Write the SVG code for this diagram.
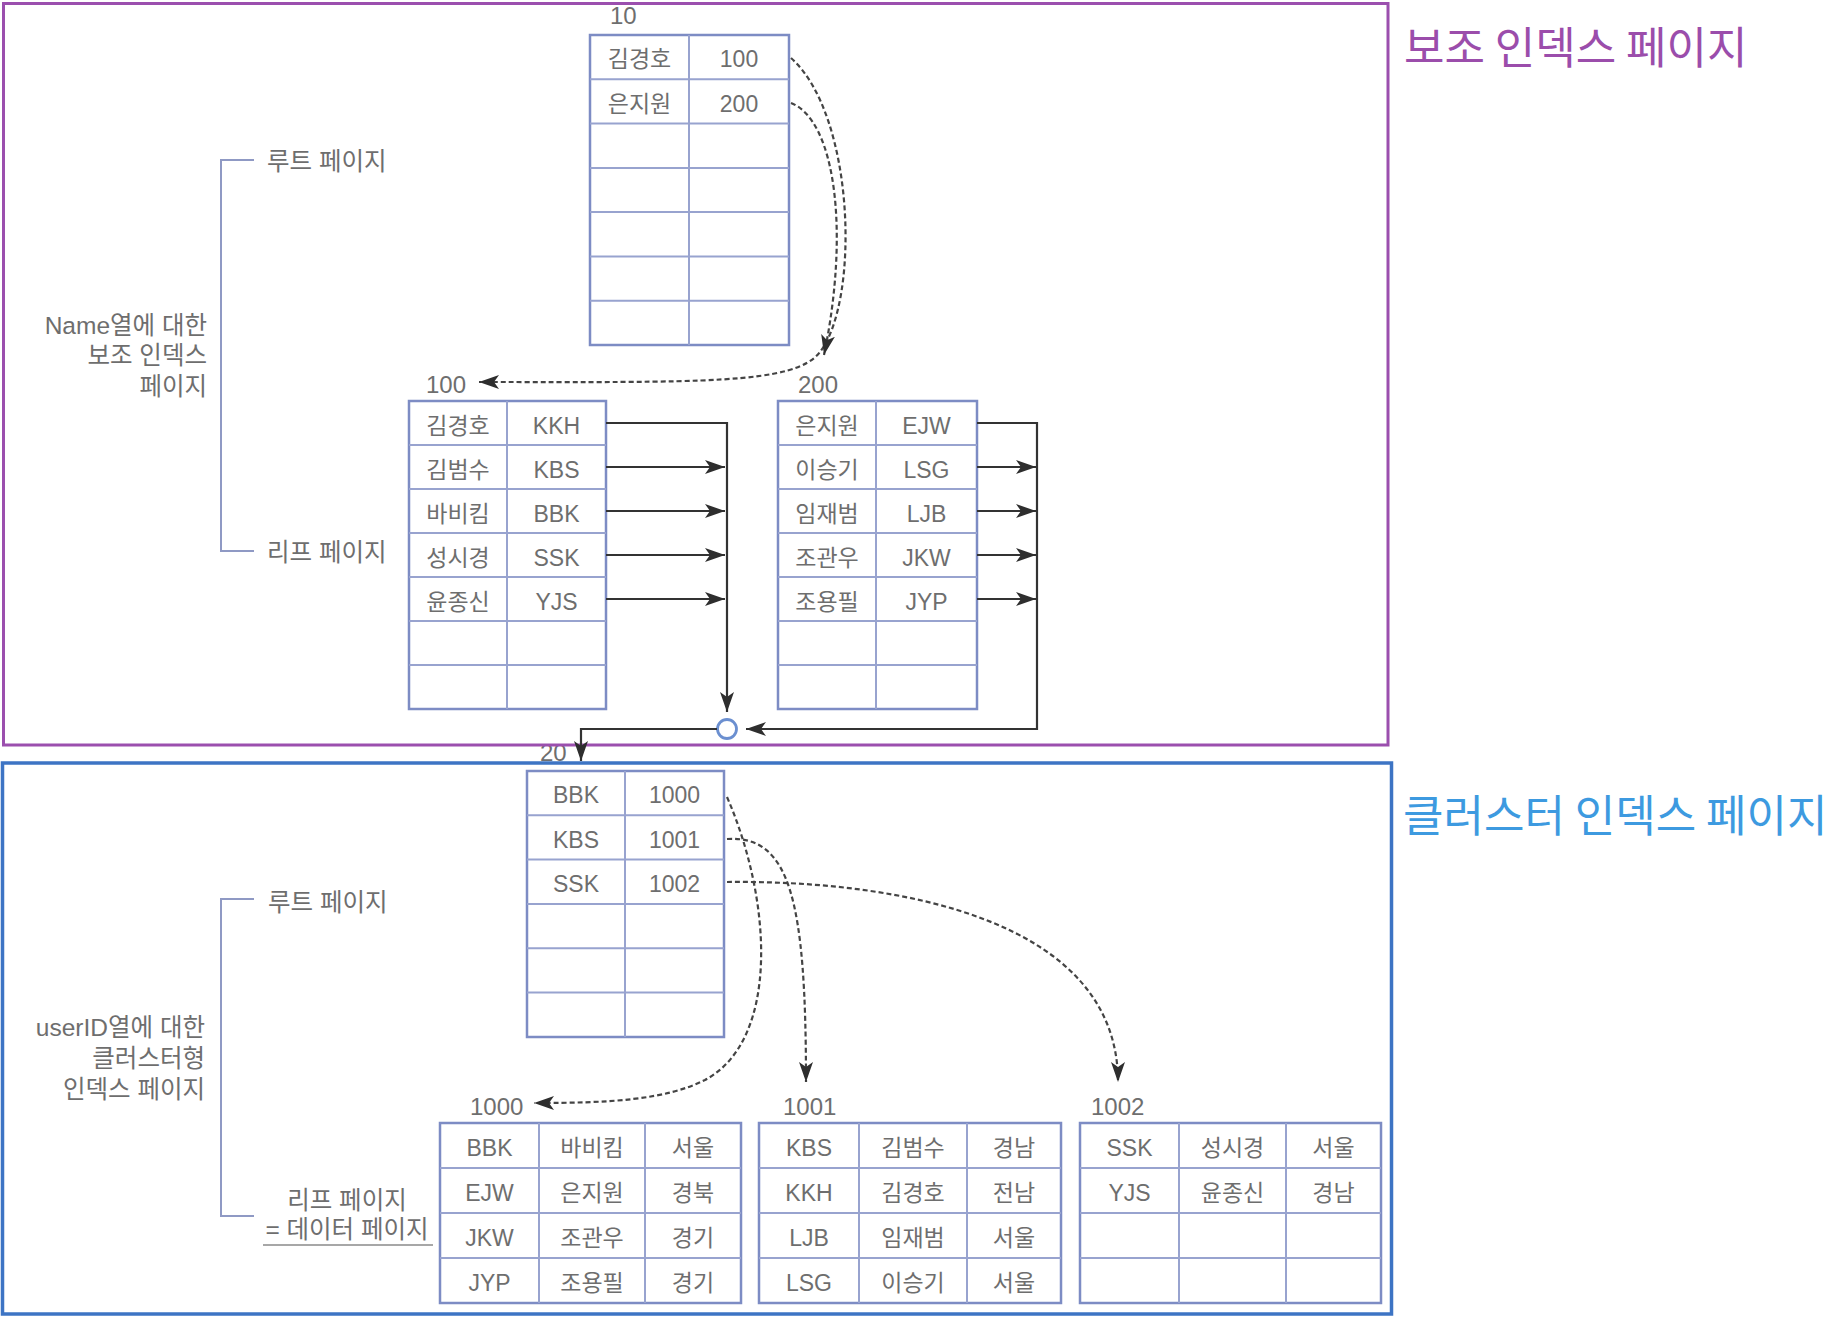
<svg xmlns="http://www.w3.org/2000/svg" width="1832" height="1322" viewBox="0 0 1832 1322">
<style>
.tb{fill:#ffffff;stroke:#7d8cc4;stroke-width:2.5}
.ln{stroke:#98a3cf;stroke-width:2;fill:none}
.c{font-family:"Liberation Sans","Noto Sans CJK KR",sans-serif;font-size:23px;fill:#6e6e6e;text-anchor:middle}
.lbl{font-family:"Liberation Sans","Noto Sans CJK KR",sans-serif;font-size:24px;fill:#6e6e6e}
.ann{font-family:"Liberation Sans","Noto Sans CJK KR",sans-serif;font-size:24.5px;fill:#6e6e6e}
.br{stroke:#8f99c4;stroke-width:2;fill:none}
.solid{stroke:#333;stroke-width:2.2;fill:none}
.dash{stroke:#444;stroke-width:2.2;fill:none;stroke-dasharray:5 3}
</style>
<defs>
<marker id="ah" viewBox="0 0 20 14" refX="20" refY="7" markerWidth="20" markerHeight="14" markerUnits="userSpaceOnUse" orient="auto">
<path d="M0,0 L20,7 L0,14 L5,7 Z" fill="#2e2e2e"/>
</marker>
</defs>
<rect width="1832" height="1322" fill="#ffffff"/>

<g id="label-20"><text class="lbl" x="540" y="761">20</text></g>

<g id="frame-secondary">
<rect x="3.5" y="3.5" width="1384.5" height="741.5" fill="none" stroke="#9b4fae" stroke-width="3"/>
<text x="1404" y="64" font-family="'Noto Sans CJK KR',sans-serif" font-size="44" fill="#9b4dab">보조 인덱스 페이지</text>
</g>
<g id="frame-cluster">
<rect x="2.5" y="763" width="1389" height="551" fill="none" stroke="#3d74c4" stroke-width="3.5"/>
<text x="1403" y="832" font-family="'Noto Sans CJK KR',sans-serif" font-size="44" fill="#3d9ae0">클러스터 인덱스 페이지</text>
</g>

<g id="ann-top">
<path class="br" d="M254,160 H221 V551 H254"/>
<text class="ann" x="267" y="170">루트 페이지</text>
<text class="ann" x="267" y="561">리프 페이지</text>
<text class="ann" x="207" y="334" text-anchor="end">Name열에 대한</text>
<text class="ann" x="207" y="364" text-anchor="end">보조 인덱스</text>
<text class="ann" x="207" y="395" text-anchor="end">페이지</text>
</g>

<g id="ann-bottom">
<path class="br" d="M254,899 H221 V1216 H254"/>
<text class="ann" x="268" y="911">루트 페이지</text>
<text class="ann" x="205" y="1036" text-anchor="end">userID열에 대한</text>
<text class="ann" x="205" y="1067" text-anchor="end">클러스터형</text>
<text class="ann" x="205" y="1098" text-anchor="end">인덱스 페이지</text>
<text class="ann" x="347" y="1209" text-anchor="middle">리프 페이지</text>
<text class="ann" x="347" y="1238" text-anchor="middle">= 데이터 페이지</text>
<line x1="263" y1="1245" x2="433" y2="1245" stroke="#8a8a8a" stroke-width="1.5"/>
</g>

<g id="page-10">
<text class="lbl" x="610" y="24">10</text>
<rect class="tb" x="590" y="35" width="199" height="310"/>
<path class="ln" d="M590,79.3H789M590,123.6H789M590,167.9H789M590,212.1H789M590,256.4H789M590,300.7H789M689,35V345"/>
<text class="c" x="639.5" y="67">김경호</text><text class="c" x="739" y="67">100</text>
<text class="c" x="639.5" y="111.5">은지원</text><text class="c" x="739" y="111.5">200</text>
</g>

<g id="page-100">
<text class="lbl" x="426" y="393">100</text>
<rect class="tb" x="409" y="401" width="197" height="308"/>
<path class="ln" d="M409,445H606M409,489H606M409,533H606M409,577H606M409,621H606M409,665H606M507,401V709"/>
<text class="c" x="458" y="434">김경호</text><text class="c" x="556.5" y="434">KKH</text>
<text class="c" x="458" y="478">김범수</text><text class="c" x="556.5" y="478">KBS</text>
<text class="c" x="458" y="522">바비킴</text><text class="c" x="556.5" y="522">BBK</text>
<text class="c" x="458" y="566">성시경</text><text class="c" x="556.5" y="566">SSK</text>
<text class="c" x="458" y="610">윤종신</text><text class="c" x="556.5" y="610">YJS</text>
</g>

<g id="page-200">
<text class="lbl" x="798" y="393">200</text>
<rect class="tb" x="778" y="401" width="199" height="308"/>
<path class="ln" d="M778,445H977M778,489H977M778,533H977M778,577H977M778,621H977M778,665H977M876,401V709"/>
<text class="c" x="827" y="434">은지원</text><text class="c" x="926.5" y="434">EJW</text>
<text class="c" x="827" y="478">이승기</text><text class="c" x="926.5" y="478">LSG</text>
<text class="c" x="827" y="522">임재범</text><text class="c" x="926.5" y="522">LJB</text>
<text class="c" x="827" y="566">조관우</text><text class="c" x="926.5" y="566">JKW</text>
<text class="c" x="827" y="610">조용필</text><text class="c" x="926.5" y="610">JYP</text>
</g>

<g id="junction">
<circle cx="727" cy="729" r="9.5" fill="#ffffff" stroke="#6b8fd0" stroke-width="2.8"/>
</g>

<g id="page-20">
<rect class="tb" x="527" y="771" width="197" height="266"/>
<path class="ln" d="M527,815.3H724M527,859.6H724M527,903.9H724M527,948.2H724M527,992.5H724M625,771V1037"/>
<text class="c" x="576" y="803">BBK</text><text class="c" x="674.5" y="803">1000</text>
<text class="c" x="576" y="847.5">KBS</text><text class="c" x="674.5" y="847.5">1001</text>
<text class="c" x="576" y="892">SSK</text><text class="c" x="674.5" y="892">1002</text>
</g>

<g id="page-1000">
<text class="lbl" x="470" y="1115">1000</text>
<rect class="tb" x="440" y="1123" width="301" height="180"/>
<path class="ln" d="M440,1168H741M440,1213H741M440,1258H741M539,1123V1303M645,1123V1303"/>
<text class="c" x="489.5" y="1155.5">BBK</text><text class="c" x="592" y="1155.5">바비킴</text><text class="c" x="693" y="1155.5">서울</text>
<text class="c" x="489.5" y="1200.5">EJW</text><text class="c" x="592" y="1200.5">은지원</text><text class="c" x="693" y="1200.5">경북</text>
<text class="c" x="489.5" y="1245.5">JKW</text><text class="c" x="592" y="1245.5">조관우</text><text class="c" x="693" y="1245.5">경기</text>
<text class="c" x="489.5" y="1290.5">JYP</text><text class="c" x="592" y="1290.5">조용필</text><text class="c" x="693" y="1290.5">경기</text>
</g>

<g id="page-1001">
<text class="lbl" x="783" y="1115">1001</text>
<rect class="tb" x="759" y="1123" width="302" height="180"/>
<path class="ln" d="M759,1168H1061M759,1213H1061M759,1258H1061M859,1123V1303M967,1123V1303"/>
<text class="c" x="809" y="1155.5">KBS</text><text class="c" x="913" y="1155.5">김범수</text><text class="c" x="1014" y="1155.5">경남</text>
<text class="c" x="809" y="1200.5">KKH</text><text class="c" x="913" y="1200.5">김경호</text><text class="c" x="1014" y="1200.5">전남</text>
<text class="c" x="809" y="1245.5">LJB</text><text class="c" x="913" y="1245.5">임재범</text><text class="c" x="1014" y="1245.5">서울</text>
<text class="c" x="809" y="1290.5">LSG</text><text class="c" x="913" y="1290.5">이승기</text><text class="c" x="1014" y="1290.5">서울</text>
</g>

<g id="page-1002">
<text class="lbl" x="1091" y="1115">1002</text>
<rect class="tb" x="1080" y="1123" width="301" height="180"/>
<path class="ln" d="M1080,1168H1381M1080,1213H1381M1080,1258H1381M1179,1123V1303M1286,1123V1303"/>
<text class="c" x="1129.5" y="1155.5">SSK</text><text class="c" x="1232.5" y="1155.5">성시경</text><text class="c" x="1333.5" y="1155.5">서울</text>
<text class="c" x="1129.5" y="1200.5">YJS</text><text class="c" x="1232.5" y="1200.5">윤종신</text><text class="c" x="1333.5" y="1200.5">경남</text>
</g>

<g id="connectors">
<path class="dash" d="M791,58 C855,115 860,300 820,352 C795,385 700,382 479,382" marker-end="url(#ah)"/>
<path class="dash" d="M791,103 C835,120 850,230 824,355" marker-end="url(#ah)"/>
<path class="solid" d="M606,423 H727 V712" marker-end="url(#ah)"/>
<path class="solid" d="M606,467 H725" marker-end="url(#ah)"/>
<path class="solid" d="M606,511 H725" marker-end="url(#ah)"/>
<path class="solid" d="M606,555 H725" marker-end="url(#ah)"/>
<path class="solid" d="M606,599 H725" marker-end="url(#ah)"/>
<path class="solid" d="M977,423 H1037 V729 H746" marker-end="url(#ah)"/>
<path class="solid" d="M977,467 H1036" marker-end="url(#ah)"/>
<path class="solid" d="M977,511 H1036" marker-end="url(#ah)"/>
<path class="solid" d="M977,555 H1036" marker-end="url(#ah)"/>
<path class="solid" d="M977,599 H1036" marker-end="url(#ah)"/>
<path class="solid" d="M717,729 H581 V761" marker-end="url(#ah)"/>
<path class="dash" d="M727,797 C772,900 780,1040 705,1080 C665,1100 610,1103 534,1103" marker-end="url(#ah)"/>
<path class="dash" d="M727,839 C790,835 806,900 806,1082" marker-end="url(#ah)"/>
<path class="dash" d="M727,882 C900,880 1118,920 1118,1082" marker-end="url(#ah)"/>
</g>
</svg>
